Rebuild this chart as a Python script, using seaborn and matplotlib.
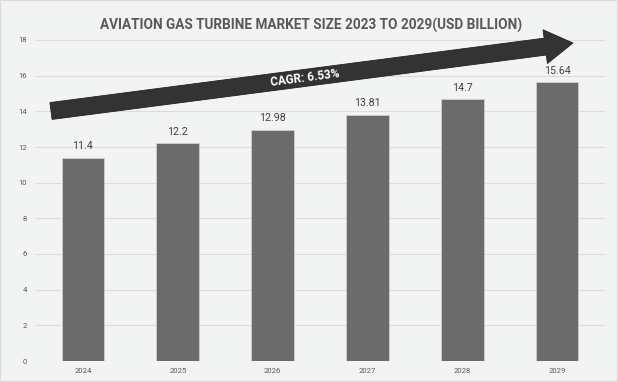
import matplotlib
matplotlib.use("Agg")
import matplotlib.pyplot as plt
import matplotlib.transforms as mtransforms
from matplotlib.patches import FancyArrow
import seaborn as sns
import pandas as pd

years = ["2024", "2025", "2026", "2027", "2028", "2029"]
values = [11.4, 12.2, 12.98, 13.81, 14.7, 15.64]
value_labels = ["11.4", "12.2", "12.98", "13.81", "14.7", "15.64"]
y_ticks = [0, 2, 4, 6, 8, 10, 12, 14, 16, 18]
title = "AVIATION GAS TURBINE MARKET SIZE 2023 TO 2029(USD BILLION)"
cagr_text = "CAGR: 6.53%"

sns.set_theme(style="white")
plt.rcParams["font.family"] = ["Roboto", "DejaVu Sans"]

BG = "#f2f3f3"
W, H = 618, 382
fig = plt.figure(figsize=(W / 100, H / 100), dpi=100, facecolor=BG)
ax = fig.add_axes([35.5 / W, 1 - 361 / H, (604.5 - 35.5) / W, (361 - 40) / H])
ax.set_facecolor(BG)

df = pd.DataFrame({"year": years, "value": values})
sns.barplot(data=df, x="year", y="value", color="#6b6b6b", saturation=1,
            width=0.45, edgecolor="#d0d0d0", linewidth=0.6, ax=ax, zorder=3)

ax.set_ylim(0, 18)
ax.set_xlim(-0.5, len(years) - 0.5)
ax.set_yticks(y_ticks)
ax.set_yticklabels([str(t) for t in y_ticks])
ax.grid(axis="y", color="#dcdcdc", linewidth=0.8, zorder=0)
ax.set_axisbelow(True)
for s in ax.spines.values():
    s.set_visible(False)
ax.tick_params(axis="both", length=0, labelsize=5.5, colors="#595959")
ax.tick_params(axis="y", pad=6)
ax.tick_params(axis="x", pad=5)
ax.set_xlabel("")
ax.set_ylabel("")

for i, (v, lab) in enumerate(zip(values, value_labels)):
    ax.annotate(lab, (i, v), xytext=(0, 4.5), textcoords="offset points",
                ha="center", va="bottom", fontsize=7.7, color="#404040")

# title, fitted to the reference width
t = fig.text(311.5 / W, 1 - 25 / H, title, ha="center", va="center",
             fontsize=10, fontweight="bold", color="#595959")
fig.canvas.draw()
r = fig.canvas.get_renderer()
wpx = t.get_window_extent(r).width
t.set_fontsize(10 * 422 / wpx)

# decorative arrow (display pixel coordinates)
tail = (51, H - 111)
tip = (573, H - 43)
arrow = FancyArrow(tail[0], tail[1], tip[0] - tail[0], tip[1] - tail[1],
                   width=17, head_width=34, head_length=28,
                   length_includes_head=True, facecolor="#333333",
                   edgecolor="#222222", linewidth=0.6,
                   transform=mtransforms.IdentityTransform(), zorder=5)
fig.add_artist(arrow)
import math
ang = math.degrees(math.atan2(tip[1] - tail[1], tip[0] - tail[0]))
fig.text(305 / W, 1 - 78 / H, cagr_text, ha="center", va="center",
         rotation=ang, rotation_mode="anchor", fontsize=8.5,
         fontweight="bold", color="white", zorder=6)

fig.patches.append(plt.Rectangle((0, 0), 1, 1, transform=fig.transFigure,
                                 fill=False, edgecolor="#d9d9d9", linewidth=1.5))
fig.savefig("out.png", dpi=100, facecolor=BG)
